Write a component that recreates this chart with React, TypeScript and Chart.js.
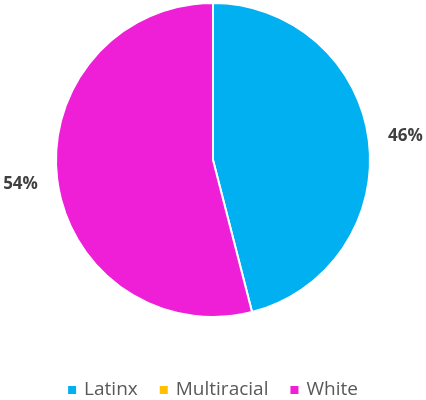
import React, { useEffect, useRef } from "react";
import { Chart, registerables } from "chart.js";

Chart.register(...registerables);

const categories = ["Latinx", "Multiracial", "White"];
const shares = [46, 0, 54];
const sliceColors = ["#00B0F0", "#FFC000", "#EE1FD6"];

const FONT = "'Open Sans', 'DejaVu Sans', sans-serif";

// Percent labels placed just outside each non-empty slice
const outsideLabels = {
  id: "outsideLabels",
  afterDatasetsDraw(chart: any) {
    const ctx = chart.ctx;
    const meta = chart.getDatasetMeta(0);
    const values = chart.data.datasets[0].data as number[];
    ctx.save();
    ctx.font = `bold 17px ${FONT}`;
    ctx.fillStyle = "#404040";
    ctx.textAlign = "center";
    ctx.textBaseline = "middle";
    meta.data.forEach((arc: any, i: number) => {
      const v = values[i];
      if (!v) return;
      const mid = (arc.startAngle + arc.endAngle) / 2;
      const d = arc.outerRadius + 37;
      ctx.fillText(`${v}%`, arc.x + Math.cos(mid) * d, arc.y + Math.sin(mid) * d);
    });
    ctx.restore();
  },
};

// Legend row along the bottom edge
const bottomLegend = {
  id: "bottomLegend",
  afterDraw(chart: any) {
    const ctx = chart.ctx;
    const labels = chart.data.labels as string[];
    const colors = chart.data.datasets[0].backgroundColor as string[];
    ctx.save();
    ctx.font = `19px ${FONT}`;
    const box = 8;
    const gapText = 8;
    const gapItem = 22;
    const widths = labels.map((l) => box + gapText + ctx.measureText(l).width);
    const total = widths.reduce((a, b) => a + b, 0) + gapItem * (labels.length - 1);
    let x = (chart.width - total) / 2;
    const y = 390;
    ctx.textBaseline = "middle";
    ctx.textAlign = "left";
    labels.forEach((l, i) => {
      ctx.fillStyle = colors[i];
      ctx.fillRect(x, y - box / 2, box, box);
      ctx.fillStyle = "#595959";
      ctx.fillText(l, x + box + gapText, y);
      x += widths[i] + gapItem;
    });
    ctx.restore();
  },
};

export default function App() {
  const ref = useRef<HTMLCanvasElement | null>(null);
  useEffect(() => {
    if (!ref.current) return;
    const chart = new Chart(ref.current, {
      type: "pie",
      data: {
        labels: categories,
        datasets: [
          {
            data: shares,
            backgroundColor: sliceColors,
            borderColor: "#ffffff",
            borderWidth: 2,
          },
        ],
      },
      options: {
        animation: false,
        responsive: false,
        layout: { padding: { top: 2, bottom: 82, left: 0, right: 0 } },
        plugins: {
          legend: { display: false },
          tooltip: { enabled: false },
        },
      },
      plugins: [outsideLabels, bottomLegend],
    });
    return () => chart.destroy();
  }, []);
  return (
    <div style={{ position: "absolute", left: 0, top: 0, width: 426, height: 400, background: "#fff" }}>
      <canvas ref={ref} width={426} height={400} />
    </div>
  );
}
